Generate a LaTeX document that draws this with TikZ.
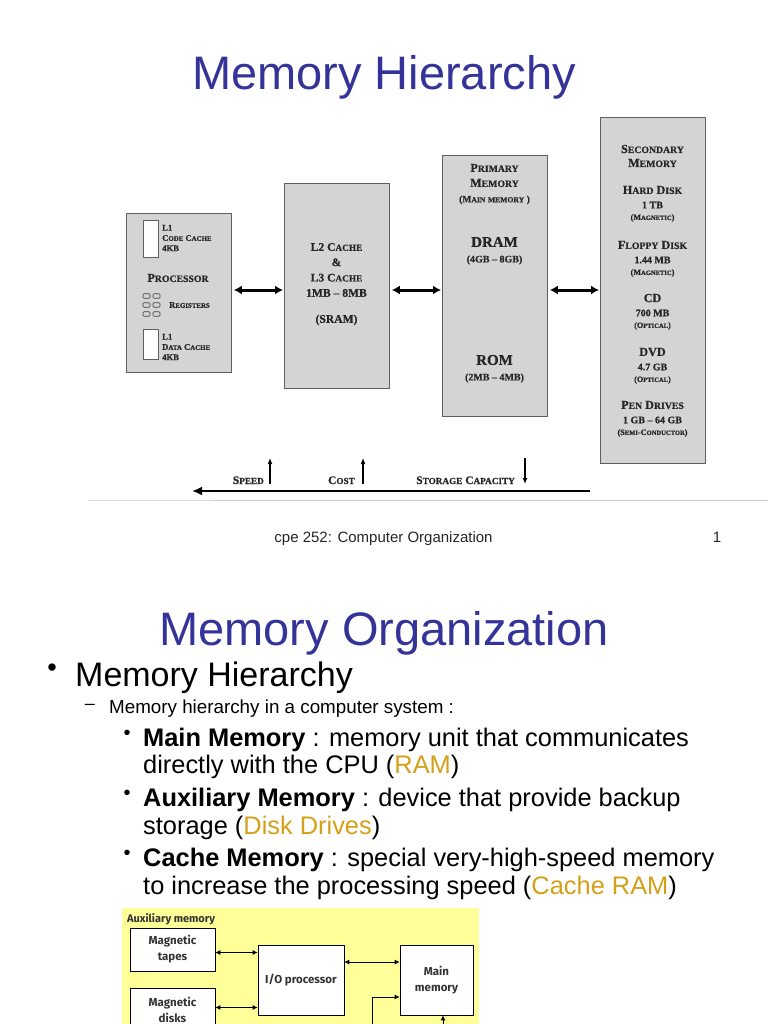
\documentclass[tikz,border=0pt]{standalone}
\usepackage{fontspec}
\setmainfont{Liberation Sans}
\newfontfamily\diagfont{Liberation Serif}[Ligatures=TeX, BoldFeatures={FakeBold=0.6}]
\newfontfamily\panelfont{Fira Sans}
\usetikzlibrary{arrows.meta}

\definecolor{titleblue}{RGB}{51,51,153}
\definecolor{boxgray}{RGB}{212,212,212}
\definecolor{boxedge}{RGB}{95,95,95}
\definecolor{hlgold}{RGB}{212,160,23}
\definecolor{panelyellow}{RGB}{255,255,153}
\definecolor{ruleblue}{RGB}{200,205,225}

\newcommand\fs[2]{\fontsize{#1}{#2}\selectfont}
\makeatletter
\newcommand\smc[1]{{\fontsize{0.8\dimexpr\f@size pt\relax}{0pt}\selectfont\MakeUppercase{#1}}}
\def\scw@split#1#2\@nil{#1\smc{#2}}
\newcommand\scw[1]{\scw@split#1\@nil}
\makeatother

\begin{document}
\begin{tikzpicture}[x=1pt,y=-1pt,
  slidetitle/.style={anchor=base, inner sep=0pt, text=titleblue, font=\fs{47}{47}},
  membox/.style={draw=boxedge, fill=boxgray, line width=0.8pt, anchor=north west, minimum width=105pt, inner sep=0pt},
  cachebar/.style={draw=boxedge, fill=white, line width=0.6pt, anchor=north west, minimum width=15pt, inner sep=0pt},
  reg/.style={draw=black!75, rounded corners=1pt, line width=0.6pt, minimum width=7pt, minimum height=4.5pt, inner sep=0pt},
  lbl/.style={inner sep=0pt, align=center, text=black!85},
  trend/.style={lbl, anchor=base east, font=\diagfont\bfseries\fs{11.5}{11.5}},
  biarrow/.style={{Latex[length=8pt,width=9pt]}-{Latex[length=8pt,width=9pt]}, line width=3pt},
  axisarrow/.style={-{Latex[length=10pt,width=9pt]}, line width=2pt},
  trendarrow/.style={-{Latex[length=6pt,width=5pt]}, line width=1.5pt},
  footer/.style={anchor=base, inner sep=0pt, text=black!85, font=\fs{15}{15}},
  item/.style={anchor=base west, inner sep=0pt, font=\fs{25.4}{25.4}},
  subdot/.style={inner sep=0pt, font=\fs{20}{20}},
  unit/.style={draw, fill=white, line width=0.7pt, align=center, font=\panelfont\bfseries\fs{11.5}{16}, text=black!80},
  linkarrow/.style={{Latex[length=5pt,width=5pt]}-{Latex[length=5pt,width=5pt]}, line width=0.8pt},
  inarrow/.style={-{Latex[length=5pt,width=5pt]}, line width=0.8pt}]

\useasboundingbox (0,0) rectangle (768,1024);
\clip (0,0) rectangle (768,1024);

% first slide
\node[slidetitle] (title1) at (384,90) {Memory Hierarchy};

% the four levels
\node[membox, minimum height=159pt] (proc) at (126,213) {};
\node[membox, minimum height=205pt] (cache) at (284,183) {};
\node[membox, minimum height=261pt] (prim) at (442,155) {};
\node[membox, minimum height=346pt] (sec) at (600,117) {};

% inside the processor
\node[cachebar, minimum height=37pt] (codebar) at (143,220) {};
\node[cachebar, minimum height=30pt] (databar) at (143,329) {};
\node[lbl, align=left, anchor=west, font=\diagfont\bfseries\fs{8.6}{10.3}] (codetxt) at (162,238) {L1\\\scw{Code} \scw{Cache}\\4KB};
\node[lbl, font=\diagfont\bfseries\fs{12.2}{12.2}] (proctxt) at (178,278) {\scw{Processor}};
\foreach \r/\yy in {1/296,2/305,3/314}
  \foreach \c/\xx in {1/146.5,2/156.5}
    \node[reg] (reg\r\c) at (\xx,\yy) {};
\node[lbl, anchor=west, font=\diagfont\bfseries\fs{8.6}{8.6}] (regtxt) at (169,305) {\scw{Registers}};
\node[lbl, align=left, anchor=west, font=\diagfont\bfseries\fs{8.6}{10.3}] (datatxt) at (162,347) {L1\\\scw{Data} \scw{Cache}\\4KB};

% caches
\node[lbl, font=\diagfont\bfseries\fs{11.6}{15.3}] (cachetxt) at (336.5,270) {L2 \scw{Cache}\\\&\\L3 \scw{Cache}\\1MB – 8MB};
\node[lbl, font=\diagfont\bfseries\fs{11.6}{11.6}] (sramtxt) at (336.5,320) {(SRAM)};

% main memory
\node[lbl, font=\diagfont\bfseries\fs{12.2}{15}] (primtxt) at (494.5,175.5) {\scw{Primary}\\\scw{Memory}};
\node[lbl, font=\diagfont\bfseries\fs{9.6}{9.6}] (maintxt) at (494.5,200) {(\scw{Main} \smc{memory} )};
\node[lbl, font=\diagfont\bfseries\fs{15}{15}] (dramtxt) at (494.5,242) {DRAM};
\node[lbl, font=\diagfont\bfseries\fs{10}{10}] (dramsize) at (494.5,260) {(4GB – 8GB)};
\node[lbl, font=\diagfont\bfseries\fs{15}{15}] (romtxt) at (494.5,360) {ROM};
\node[lbl, font=\diagfont\bfseries\fs{10}{10}] (romsize) at (494.5,378) {(2MB – 4MB)};

% secondary storage
\node[lbl, font=\diagfont\bfseries\fs{12.2}{14}] (sectxt) at (652.5,156) {\scw{Secondary}\\\scw{Memory}};
\foreach \nm/\val/\kind/\yy [count=\k] in {
    {\scw{Hard} \scw{Disk}}/{1 TB}/{(\scw{Magnetic})}/190,
    {\scw{Floppy} \scw{Disk}}/{1.44 MB}/{(\scw{Magnetic})}/245,
    {CD}/{700 MB}/{(\scw{Optical})}/298,
    {DVD}/{4.7 GB}/{(\scw{Optical})}/352,
    {\scw{Pen} \scw{Drives}}/{1 GB – 64 GB}/{(\scw{Semi}-\scw{Conductor})}/405} {
  \node[lbl, font=\diagfont\bfseries\fs{12.2}{12.2}] (dev\k) at (652.5,\yy) {\nm};
  \node[lbl, font=\diagfont\bfseries\fs{10}{10}] (size\k) at (652.5,\yy+15) {\val};
  \node[lbl, font=\diagfont\bfseries\fs{8.2}{8.2}] (kind\k) at (652.5,\yy+28) {\kind};
}

% links between levels
\foreach \a/\b in {proc/cache,cache/prim,prim/sec}
  \draw[biarrow, shorten <=2pt, shorten >=1pt] (\a.east |- 0,290) -- (\b.west |- 0,290);

% trends along the hierarchy
\coordinate (axisR) at (590,491);
\coordinate (axisL) at (192,491);
\draw[axisarrow] (axisR) -- (axisL);
\node[trend] (speed) at (264,484) {\scw{Speed}};
\draw[trendarrow] ([xshift=6pt]speed.base east) -- ++(0,-26);
\node[trend] (cost) at (355,484) {\scw{Cost}};
\draw[trendarrow] ([xshift=8pt]cost.base east) -- ++(0,-26);
\node[trend] (capacity) at (515,484) {\scw{Storage} \scw{Capacity}};
\draw[trendarrow] ([shift={(10,-26)}]capacity.base east) -- ++(0,26);

% slide rule and footer
\draw[black!12, line width=1pt] (88,500) -- (210,500);
\draw[ruleblue, line width=1pt] (210,500) -- (768,500);
\node[footer] (course) at (383.5,542) {cpe 252: Computer Organization};
\node[footer] (pageno) at (717,542) {1};

% second slide
\node[slidetitle] (title2) at (384,645) {Memory Organization};
\node[inner sep=0pt, font=\fs{27}{27}] (dot1) at (52,670) {•};
\node[anchor=base west, inner sep=0pt, font=\fs{34}{34}] (lvl1) at (75,686) {Memory Hierarchy};
\node[inner sep=0pt, font=\fs{18}{18}] (dash1) at (90,707) {–};
\node[anchor=base west, inner sep=0pt, font=\fs{18.8}{18.8}] (lvl2) at (109,713) {Memory hierarchy in a computer system :};
\foreach \yy [count=\k] in {735,795,855}
  \node[subdot] (dot2\k) at (127,\yy) {•};
\node[item] (mainA) at (143,746) {\textbf{Main Memory} : memory unit that communicates};
\node[item] (mainB) at (143,773) {directly with the CPU (\textcolor{hlgold}{RAM})};
\node[item] (auxA) at (143,806) {\textbf{Auxiliary Memory} : device that provide backup};
\node[item] (auxB) at (143,834) {storage (\textcolor{hlgold}{Disk Drives})};
\node[item] (cacheA) at (143,866) {\textbf{Cache Memory} : special very-high-speed memory};
\node[item] (cacheB) at (143,894) {to increase the processing speed (\textcolor{hlgold}{Cache RAM})};

% auxiliary memory panel
\fill[panelyellow] (122,908) rectangle (479,1030);
\node[anchor=base west, inner sep=0pt, text=black!80, font=\panelfont\bfseries\fs{11}{11}] (auxlbl) at (127,922) {Auxiliary memory};
\node[unit, minimum width=85pt, minimum height=43pt] (tapes) at (172.5,949.5) {Magnetic\\tapes};
\node[unit, minimum width=85pt, minimum height=43pt] (disks) at (172.5,1009.5) {Magnetic\\disks};
\node[unit, minimum width=86pt, minimum height=70pt] (iop) at (301,980) {I/O processor};
\node[unit, minimum width=73pt, minimum height=70pt] (mainmem) at (436.5,980) {Main\\memory};
\draw[linkarrow] ([yshift=-3pt]tapes.east) -- ([yshift=-3pt]tapes.east -| iop.west);
\draw[linkarrow] ([yshift=2pt]disks.east) -- ([yshift=2pt]disks.east -| iop.west);
\draw[linkarrow] ([yshift=18pt]iop.east) -- ([yshift=18pt]iop.east -| mainmem.west);
\coordinate (cpuin) at (372,1030);
\draw[inarrow] (cpuin) |- ([yshift=-17pt]mainmem.west);
\coordinate (iobus) at (443,1030);
\draw[inarrow] (iobus) -- (iobus |- mainmem.south);
\end{tikzpicture}
\end{document}
